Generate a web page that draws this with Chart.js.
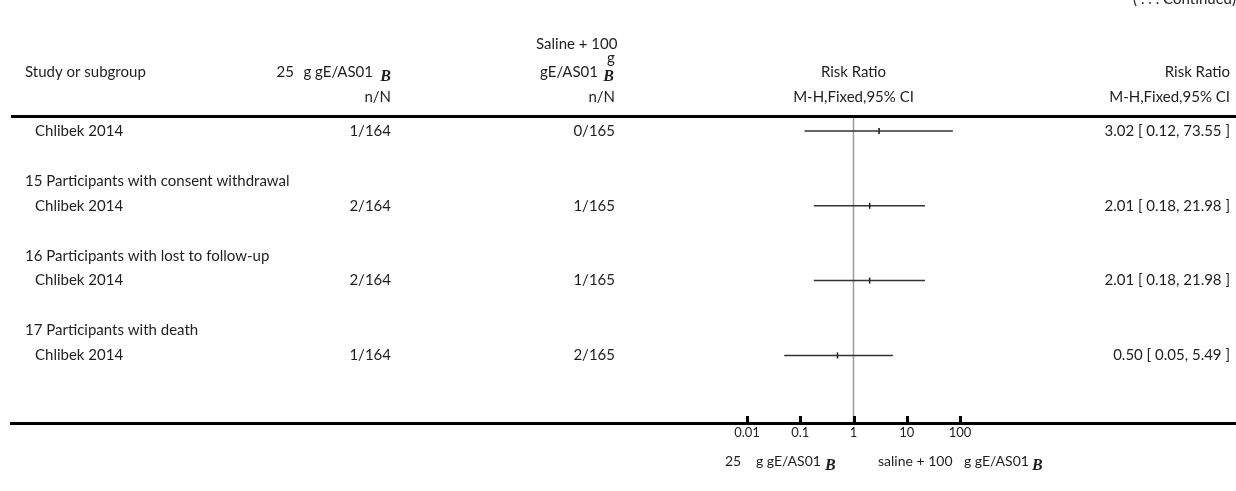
<!DOCTYPE html>
<html>
<head>
<meta charset="utf-8">
<script src="https://cdn.jsdelivr.net/npm/chart.js@4.4.1/dist/chart.umd.min.js"></script>
<style>
  body { margin: 0; background: #fff; }
  canvas { display: block; }
</style>
</head>
<body>
<canvas id="chart" width="1236" height="491"></canvas>
<script>
// forest plot rows (row index on the hidden y scale)
const studyNames = ['Chlibek 2014', 'Chlibek 2014', 'Chlibek 2014', 'Chlibek 2014'];
const studyRows = [0, 3, 6, 9];
const subgroupNames = [
    '15 Participants with consent withdrawal',
    '16 Participants with lost to follow-up',
    '17 Participants with death'
];
const subgroupRows = [2, 5, 8];
const vaccineEvents = ['1/164', '2/164', '2/164', '1/164'];
const salineEvents = ['0/165', '1/165', '1/165', '2/165'];
const riskRatio = [3.02, 2.01, 2.01, 0.50];
const ciLow = [0.12, 0.18, 0.18, 0.05];
const ciHigh = [73.55, 21.98, 21.98, 5.49];
const tickValues = [0.01, 0.1, 1, 10, 100];

const FONT = '"Lato", "Open Sans", sans-serif';
const TXT = '#1e1e1e';
const SIZE = 15;

function txt(ctx, s, x, y, align, size) {
    ctx.font = (size || SIZE) + 'px ' + FONT;
    ctx.textAlign = align || 'left';
    ctx.fillText(s, x, y);
    return x + (align ? 0 : ctx.measureText(s).width);
}
function bee(ctx, x, y, align) {
    ctx.font = 'bold italic 16px "Liberation Serif", serif';
    ctx.textAlign = align || 'right';
    ctx.fillText('B', x, y);
}

const forestText = {
    id: 'forestText',
    beforeDatasetsDraw(chart) {
        const ctx = chart.ctx, xs = chart.scales.x, a = chart.chartArea;
        const x1 = xs.getPixelForValue(1);
        ctx.save();
        ctx.strokeStyle = '#9a9a9a';
        ctx.lineWidth = 1.5;
        ctx.beginPath();
        ctx.moveTo(x1, a.top);
        ctx.lineTo(x1, a.bottom);
        ctx.stroke();
        ctx.restore();
    },
    afterDraw(chart) {
        const ctx = chart.ctx, xs = chart.scales.x, ys = chart.scales.y, a = chart.chartArea;
        ctx.save();
        ctx.fillStyle = TXT;

        // partly cut-off note at the top right
        ctx.textBaseline = 'alphabetic';
        txt(ctx, '( . . . Continued)', 1236, 4, 'right', 15);
        ctx.textBaseline = 'middle';

        // column headers
        txt(ctx, 'Study or subgroup', 25, 72);
        txt(ctx, '25', 294, 72, 'right');
        txt(ctx, 'g gE/AS01', 373, 72, 'right');
        bee(ctx, 391, 77);
        txt(ctx, 'n/N', 391, 97, 'right');

        txt(ctx, 'Saline + 100', 536, 44);
        txt(ctx, 'g', 611, 58, 'center');
        txt(ctx, 'gE/AS01', 598, 72, 'right');
        bee(ctx, 614, 77);
        txt(ctx, 'n/N', 615, 97, 'right');

        const mid = xs.getPixelForValue(1);
        txt(ctx, 'Risk Ratio', mid, 72, 'center');
        txt(ctx, 'M-H,Fixed,95% CI', mid, 97, 'center');
        txt(ctx, 'Risk Ratio', 1230, 72, 'right');
        txt(ctx, 'M-H,Fixed,95% CI', 1230, 97, 'right');

        // rows
        subgroupNames.forEach((s, i) => txt(ctx, s, 25, ys.getPixelForValue(subgroupRows[i])));
        studyNames.forEach((s, i) => {
            const y = ys.getPixelForValue(studyRows[i]);
            txt(ctx, s, 35, y);
            txt(ctx, vaccineEvents[i], 391, y, 'right');
            txt(ctx, salineEvents[i], 615, y, 'right');
            const ci = riskRatio[i].toFixed(2) + ' [ ' + ciLow[i].toFixed(2) + ', ' + ciHigh[i].toFixed(2) + ' ]';
            txt(ctx, ci, 1230, y, 'right');
        });

        // table rules + axis
        ctx.fillStyle = '#000';
        ctx.fillRect(11, a.top - 2, 1225, 3);
        ctx.fillRect(10, a.bottom - 1, 1226, 3);
        tickValues.forEach(v => {
            const x = Math.round(xs.getPixelForValue(v));
            ctx.fillRect(x - 1, a.bottom - 7, 3, 7);
        });

        // axis captions
        ctx.fillStyle = TXT;
        txt(ctx, '25', 725, 461, null, 14);
        let e = txt(ctx, 'g gE/AS01', 756, 461, null, 14);
        bee(ctx, e + 4, 466, 'left');
        txt(ctx, 'saline + 100', 878, 461, null, 14);
        e = txt(ctx, 'g gE/AS01', 964, 461, null, 14);
        bee(ctx, e + 3, 466, 'left');
        ctx.restore();
    }
};

const ciSets = studyRows.map((r, i) => ({
    type: 'scatter',
    showLine: true,
    data: [{ x: ciLow[i], y: r }, { x: ciHigh[i], y: r }],
    borderColor: '#333',
    borderWidth: 1.5,
    pointRadius: 0
}));

new Chart('chart', {
    type: 'scatter',
    data: {
        datasets: ciSets.concat([{
            data: studyRows.map((r, i) => ({ x: riskRatio[i], y: r })),
            pointStyle: 'line',
            rotation: 90,
            radius: 3,
            borderWidth: 1.5,
            borderColor: '#111',
            backgroundColor: '#111'
        }])
    },
    options: {
        responsive: false,
        animation: false,
        layout: { padding: { left: 747, right: 276, top: 117, bottom: 0 } },
        plugins: {
            legend: { display: false },
            tooltip: { enabled: false }
        },
        scales: {
            x: {
                type: 'logarithmic',
                min: 0.01,
                max: 100,
                afterBuildTicks: s => { s.ticks = tickValues.map(v => ({ value: v })); },
                afterFit: s => { s.height = 68; },
                grid: { display: false, drawTicks: false },
                border: { display: false },
                ticks: {
                    padding: 2,
                    autoSkip: false,
                    maxRotation: 0,
                    color: TXT,
                    font: { family: FONT, size: 13 },
                    callback: v => String(v)
                }
            },
            y: {
                type: 'linear',
                reverse: true,
                min: -0.56,
                max: 11.71,
                display: false
            }
        }
    },
    plugins: [forestText]
});
</script>
</body>
</html>
